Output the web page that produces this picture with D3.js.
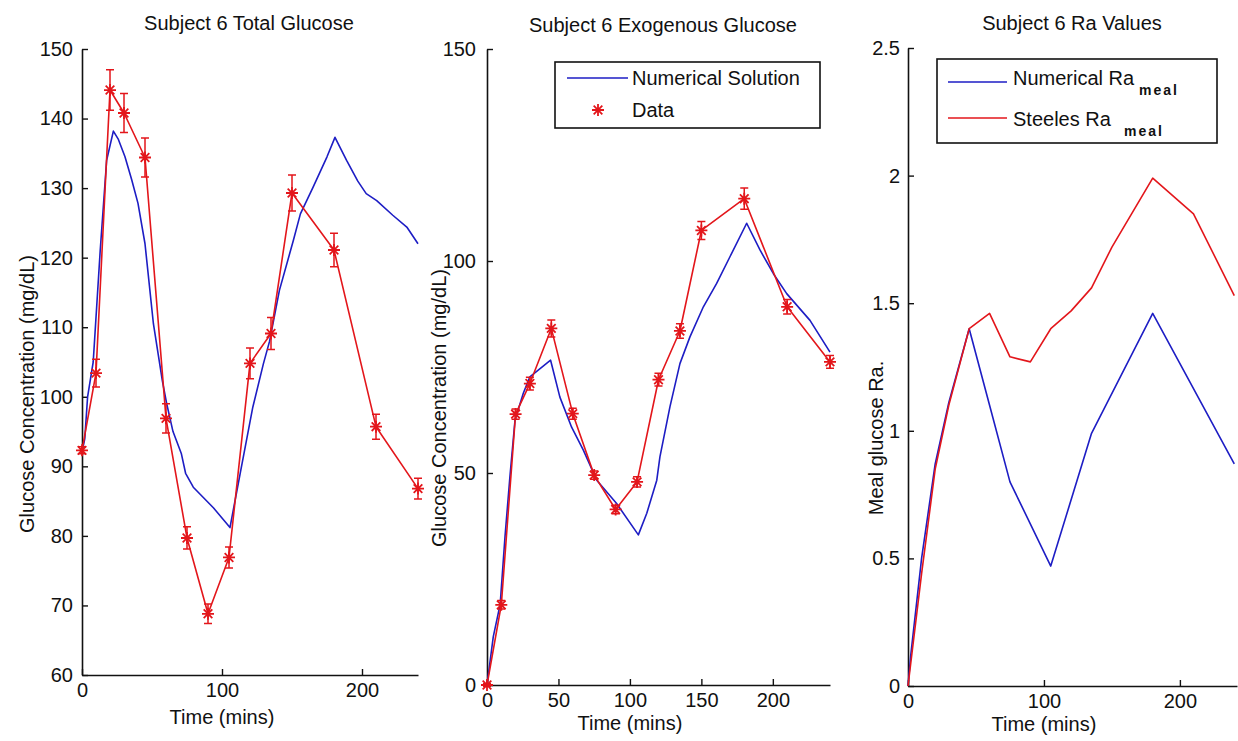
<!DOCTYPE html>
<html>
<head>
<meta charset="utf-8">
<script src="https://cdn.jsdelivr.net/npm/d3@7"></script>
<style>
  html, body { margin: 0; padding: 0; background: #ffffff; }
  svg { display: block; font-family: "Liberation Sans", Arial, sans-serif; }
</style>
</head>
<body>
<svg id="fig" width="1238" height="741"></svg>
<script>
// ---------- Sampling times of the measured data (min) ----------
const sampleTimes = [0, 10, 20, 30, 45, 60, 75, 90, 105, 120, 135, 150, 180, 210, 240];

// ---------- Total glucose (mg/dL) ----------
const totalData = [92.3, 103.4, 144.1, 140.8, 134.4, 96.9, 79.7, 68.8, 76.9, 104.8, 109.1, 129.3, 121.1, 95.7, 86.8];
const totalErr  = [0.5, 2.0, 2.9, 2.8, 2.8, 2.1, 1.6, 1.4, 1.5, 2.2, 2.3, 2.6, 2.4, 1.8, 1.5];
const totalModelT = [0, 2, 4, 8, 13, 17.6, 22.4, 26, 30.7, 35.5, 40, 45, 51, 57.4, 60.5, 65, 71, 74, 79.5, 94, 105.7,
                     113, 122, 129.5, 134, 141, 151, 156, 165, 175, 180.7, 189, 197, 203, 210.5, 222, 232, 240];
const totalModel  = [92, 94, 100, 105, 121, 134, 138.2, 137, 134.5, 131.2, 127.8, 122, 110.5, 102.3, 99, 95, 91.8, 89, 87, 84, 81.2,
                     89, 98.5, 104.7, 108, 115.3, 122.5, 126.3, 130.1, 134.5, 137.3, 134, 131, 129.2, 128.2, 126.1, 124.4, 122];

// ---------- Exogenous glucose (mg/dL) ----------
const exoData = [0, 18.9, 63.9, 71.1, 84.1, 64.0, 49.5, 41.4, 47.9, 72.0, 83.5, 107.2, 114.7, 89.2, 76.2];
const exoErr  = [0.3, 1.0, 1.2, 1.5, 2.0, 1.3, 1.0, 1.0, 1.2, 1.5, 1.7, 2.1, 2.5, 1.7, 1.5];
const exoModelT = [0, 4.4, 9.2, 12.6, 16, 19.6, 25.4, 30, 44.5, 51, 59.2, 67.4, 76.8, 90.7, 105.9, 111.8, 118.8, 121,
                   128, 135, 142, 151.4, 160.7, 170, 181.7, 191, 200.4, 209.7, 226, 240];
const exoModel  = [0, 11.4, 19, 35, 49, 62.5, 68.8, 72.7, 76.6, 67.9, 60.8, 55.4, 48.3, 42.8, 35.4, 40.5, 48.3, 53.8,
                   65.6, 75.8, 82.1, 89.2, 94.7, 101, 108.9, 102.6, 97, 92.3, 86, 78.5];

// ---------- Meal rate of appearance ----------
const raSteele = [0, 0.44, 0.85, 1.10, 1.40, 1.46, 1.29, 1.27, 1.40, 1.47, 1.56, 1.72, 1.99, 1.85, 1.53];
const raNumT   = [0, 2, 10, 20, 30, 45, 60, 75, 105, 135, 180, 240];
const raNum    = [0, 0.12, 0.50, 0.87, 1.11, 1.40, 1.10, 0.80, 0.47, 0.99, 1.46, 0.87];

// ---------- Tick values ----------
const totalYTicks = [60, 70, 80, 90, 100, 110, 120, 130, 140, 150];
const exoYTicks   = [0, 50, 100, 150];
const raYTicks    = [0, 0.5, 1, 1.5, 2, 2.5];
const wideXTicks  = [0, 100, 200];
const fineXTicks  = [0, 50, 100, 150, 200];

const BLUE = "#1d1dc4";
const RED  = "#e3161b";
const INK  = "#111111";
const FONT = 20;

const svg = d3.select("#fig");

// MATLAB-style '*' marker: plus sign overlaid with a cross
function starPath(r) {
  const d = r * 0.72;
  return `M0,${-r}V${r}M${-r},0H${r}M${-d},${-d}L${d},${d}M${-d},${d}L${d},${-d}`;
}

function styleAxis(g) {
  g.attr("font-size", FONT).attr("font-family", null);
  g.select(".domain").attr("stroke", INK).attr("stroke-width", 1.6);
  g.selectAll(".tick line").attr("stroke", INK).attr("stroke-width", 1.4);
  g.selectAll(".tick text").attr("fill", INK);
}

function makePanel(cfg) {
  const x = d3.scaleLinear().domain(cfg.xDomain).range(cfg.xRange);
  const y = d3.scaleLinear().domain(cfg.yDomain).range(cfg.yRange);
  const g = svg.append("g");

  g.append("g")
    .attr("transform", `translate(0,${cfg.yRange[0]})`)
    .call(d3.axisBottom(x).tickValues(cfg.xTicks).tickSizeInner(-6).tickSizeOuter(0).tickPadding(8).tickFormat(d3.format("d")))
    .call(styleAxis);

  g.append("g")
    .attr("transform", `translate(${cfg.xRange[0]},0)`)
    .call(d3.axisLeft(y).tickValues(cfg.yTicks).tickSizeInner(-6).tickSizeOuter(0).tickPadding(cfg.yPad).tickFormat(cfg.yFormat))
    .call(styleAxis);

  g.append("text")
    .attr("x", cfg.titleX).attr("y", cfg.titleY)
    .attr("text-anchor", "middle").attr("font-size", FONT).attr("fill", INK)
    .text(cfg.title);

  g.append("text")
    .attr("x", x(100)).attr("y", cfg.xlabelY)
    .attr("text-anchor", "middle").attr("font-size", FONT).attr("fill", INK)
    .text("Time (mins)");

  g.append("text")
    .attr("transform", `translate(${cfg.ylabelX},${cfg.ylabelY}) rotate(-90)`)
    .attr("text-anchor", "middle").attr("font-size", FONT).attr("fill", INK)
    .text(cfg.ylabel);

  return { g, x, y };
}

function drawLine(p, xs, ys, color) {
  const line = d3.line().x(d => p.x(d[0])).y(d => p.y(d[1]));
  p.g.append("path")
    .datum(xs.map((t, i) => [t, ys[i]]))
    .attr("d", line)
    .attr("fill", "none")
    .attr("stroke", color)
    .attr("stroke-width", 1.6)
    .attr("stroke-linejoin", "round");
}

function drawErrorbars(p, xs, ys, es) {
  const pts = xs.map((t, i) => ({ t, v: ys[i], e: es[i] }));
  drawLine(p, xs, ys, RED);
  const cap = 4;
  const eg = p.g.append("g").attr("stroke", RED).attr("stroke-width", 1.5).attr("fill", "none");
  eg.selectAll("path.err").data(pts).join("path")
    .attr("class", "err")
    .attr("d", d => {
      const cx = p.x(d.t), y0 = p.y(d.v - d.e), y1 = p.y(d.v + d.e);
      return `M${cx},${y0}V${y1}M${cx - cap},${y0}H${cx + cap}M${cx - cap},${y1}H${cx + cap}`;
    });
  eg.selectAll("path.star").data(pts).join("path")
    .attr("class", "star")
    .attr("transform", d => `translate(${p.x(d.t)},${p.y(d.v)})`)
    .attr("d", starPath(6))
    .attr("stroke-width", 1.8);
}

// ---------- Panel 1: total glucose ----------
const p1 = makePanel({
  xDomain: [0, 240], xRange: [82, 418],
  yDomain: [60, 150], yRange: [675, 49],
  xTicks: wideXTicks, yTicks: totalYTicks, yFormat: d3.format("d"), yPad: 9,
  title: "Subject 6 Total Glucose", titleX: 249, titleY: 30,
  xlabelY: 724,
  ylabel: "Glucose Concentration (mg/dL)", ylabelX: 34, ylabelY: 394
});
drawLine(p1, totalModelT, totalModel, BLUE);
drawErrorbars(p1, sampleTimes, totalData, totalErr);

// ---------- Panel 2: exogenous glucose ----------
const p2 = makePanel({
  xDomain: [0, 240], xRange: [487, 830],
  yDomain: [0, 150], yRange: [685, 49],
  xTicks: fineXTicks, yTicks: exoYTicks, yFormat: d3.format("d"), yPad: 11,
  title: "Subject 6 Exogenous Glucose", titleX: 663, titleY: 32,
  xlabelY: 730,
  ylabel: "Glucose Concentration (mg/dL)", ylabelX: 446, ylabelY: 408
});
drawLine(p2, exoModelT, exoModel, BLUE);
drawErrorbars(p2, sampleTimes, exoData, exoErr);

// legend
const lg2 = p2.g.append("g");
lg2.append("rect").attr("x", 555).attr("y", 62).attr("width", 265).attr("height", 66)
  .attr("fill", "#fff").attr("stroke", INK).attr("stroke-width", 1.6);
lg2.append("line").attr("x1", 567).attr("x2", 628).attr("y1", 78).attr("y2", 78)
  .attr("stroke", BLUE).attr("stroke-width", 1.6);
lg2.append("text").attr("x", 632).attr("y", 85).attr("font-size", FONT).attr("fill", INK).text("Numerical Solution");
lg2.append("path").attr("transform", "translate(598,110)").attr("d", starPath(6))
  .attr("stroke", RED).attr("stroke-width", 1.8).attr("fill", "none");
lg2.append("text").attr("x", 632).attr("y", 117).attr("font-size", FONT).attr("fill", INK).text("Data");

// ---------- Panel 3: meal Ra ----------
const p3 = makePanel({
  xDomain: [0, 242], xRange: [908, 1237],
  yDomain: [0, 2.5], yRange: [686, 48],
  xTicks: wideXTicks, yTicks: raYTicks, yFormat: d => String(d), yPad: 8,
  title: "Subject 6 Ra Values", titleX: 1072, titleY: 30,
  xlabelY: 731,
  ylabel: "Meal glucose Ra.", ylabelX: 883, ylabelY: 438
});
drawLine(p3, raNumT, raNum, BLUE);
drawLine(p3, sampleTimes, raSteele, RED);

// legend with subscripted labels
const lg3 = p3.g.append("g");
lg3.append("rect").attr("x", 937).attr("y", 59).attr("width", 280).attr("height", 84)
  .attr("fill", "#fff").attr("stroke", INK).attr("stroke-width", 1.6);
const legendRows = [
  { label: "Numerical Ra", color: BLUE, lineY: 82, base: 85, subX: 1139, subBase: 95 },
  { label: "Steeles Ra",   color: RED,  lineY: 118, base: 126, subX: 1124, subBase: 136 }
];
legendRows.forEach(r => {
  lg3.append("line").attr("x1", 948).attr("x2", 1007).attr("y1", r.lineY).attr("y2", r.lineY)
    .attr("stroke", r.color).attr("stroke-width", 1.6);
  lg3.append("text").attr("x", 1013).attr("y", r.base).attr("font-size", FONT).attr("fill", INK).text(r.label);
  lg3.append("text").attr("x", r.subX).attr("y", r.subBase).attr("font-size", 14).attr("font-weight", "bold")
    .attr("letter-spacing", 2).attr("fill", INK).text("meal");
});
</script>
</body>
</html>
